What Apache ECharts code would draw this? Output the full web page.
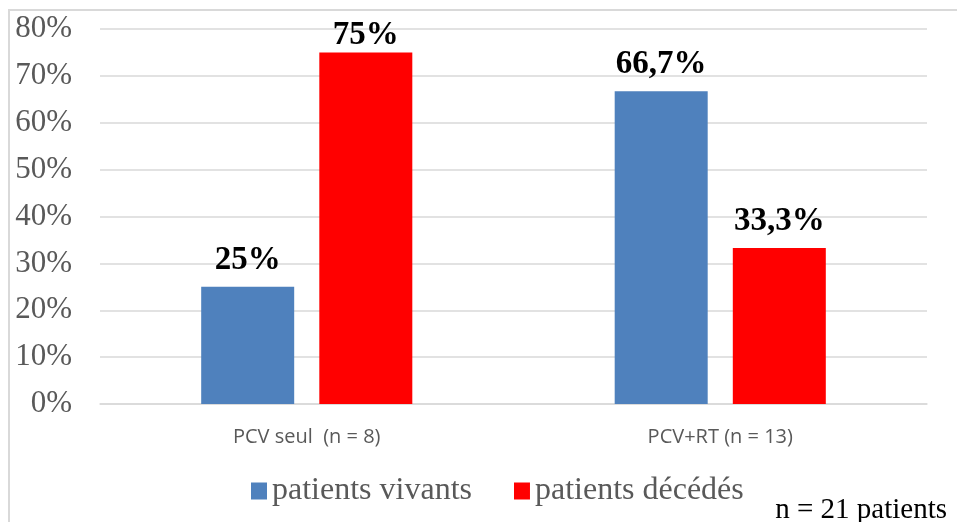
<!DOCTYPE html>
<html>
<head>
<meta charset="utf-8">
<script src="https://cdn.jsdelivr.net/npm/echarts@6/dist/echarts.min.js"></script>
<style>
  html, body { margin: 0; padding: 0; background: #fff; }
  #chart { width: 957px; height: 522px; }
</style>
</head>
<body>
<div id="chart"></div>
<script>
const categories = ['PCV seul  (n = 8)', 'PCV+RT (n = 13)'];
const vivants = [25, 66.7];
const decedes = [75, 33.3];
const vivantsLabels = ['25%', '66,7%'];
const decedesLabels = ['75%', '33,3%'];

const serif = '"Liberation Serif", "DejaVu Serif", serif';

const chart = echarts.init(document.getElementById('chart'));

// labels near the top of the plot get squeezed down onto the bar, like excel does
const barData = (values) => values.map(v => ({
    value: v,
    label: { distance: v > 72 ? 0 : 10 }
}));

const valueLabel = (texts) => ({
    show: true,
    position: 'top',
    formatter: p => texts[p.dataIndex],
    fontFamily: serif,
    fontWeight: 'bold',
    fontSize: 33,
    color: '#000'
});

chart.setOption({
    animation: false,
    grid: { left: 100, right: 30, top: 29, bottom: 118 },
    legend: {
        bottom: 10,
        left: 246,
        itemWidth: 16,
        itemHeight: 17,
        itemGap: 42,
        icon: 'rect',
        textStyle: { fontFamily: serif, fontSize: 32, color: '#595959' },
        data: ['patients vivants', 'patients décédés']
    },
    xAxis: {
        type: 'category',
        data: categories,
        axisLine: { lineStyle: { color: '#d9d9d9', width: 1.5 } },
        axisTick: { show: false },
        axisLabel: { fontFamily: '"Open Sans", "Noto Sans", sans-serif', fontSize: 20, color: '#595959', margin: 23 }
    },
    yAxis: {
        type: 'value',
        min: 0,
        max: 80,
        interval: 10,
        axisLine: { show: false },
        axisTick: { show: false },
        splitLine: { lineStyle: { color: '#d9d9d9', width: 1.5 } },
        axisLabel: {
            formatter: '{value}%',
            fontFamily: serif,
            fontSize: 31,
            color: '#595959',
            margin: 28
        }
    },
    series: [
        {
            name: 'patients vivants',
            type: 'bar',
            data: barData(vivants),
            barWidth: 93,
            barGap: '27%',
            itemStyle: { color: '#4f81bd' },
            label: valueLabel(vivantsLabels)
        },
        {
            name: 'patients décédés',
            type: 'bar',
            data: barData(decedes),
            barWidth: 93,
            itemStyle: { color: '#ff0000' },
            label: valueLabel(decedesLabels)
        }
    ],
    graphic: [
        {
            type: 'rect',
            shape: { x: 9, y: 10, width: 960, height: 540 },
            style: { fill: 'none', stroke: '#d9d9d9', lineWidth: 2 },
            silent: true
        },
        {
            type: 'text',
            right: 10,
            bottom: -3,
            style: { text: 'n = 21 patients', font: '29px ' + serif, fill: '#000' }
        }
    ]
});
</script>
</body>
</html>
